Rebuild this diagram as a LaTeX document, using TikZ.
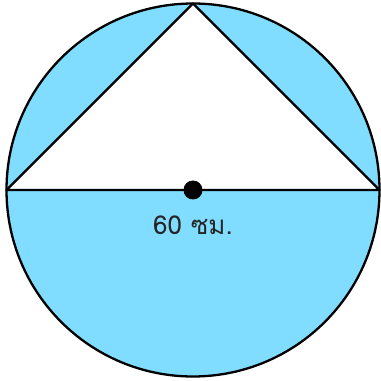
\documentclass[tikz,border=0pt]{standalone}
\usepackage{fontspec}
\newfontfamily\thaifont[Script=Thai]{Loma}
\definecolor{skyfill}{HTML}{80DDFF}
\begin{document}
\begin{tikzpicture}[x=1pt,y=1pt,
  edge/.style={line width=2.3pt,black,line join=round},
  lbl/.style={font=\thaifont\fontsize{26}{30}\selectfont,text=black!85}]
\useasboundingbox (0,0) rectangle (381,381);
\coordinate (O) at (193,191);
\coordinate (L) at (6.5,191);
\coordinate (R) at (379.5,191);
\coordinate (T) at (193,377.5);
\fill[skyfill] (O) circle (186.5);
\fill[white] (L) -- (T) -- (R) -- cycle;
\draw[edge] (O) circle (186.5);
\draw[edge] (L) -- (T) -- (R) -- cycle;
\fill[black] (O) circle (9.5);
\node[lbl] (t) at (193,156) {60 ซม.};
\end{tikzpicture}
\end{document}
